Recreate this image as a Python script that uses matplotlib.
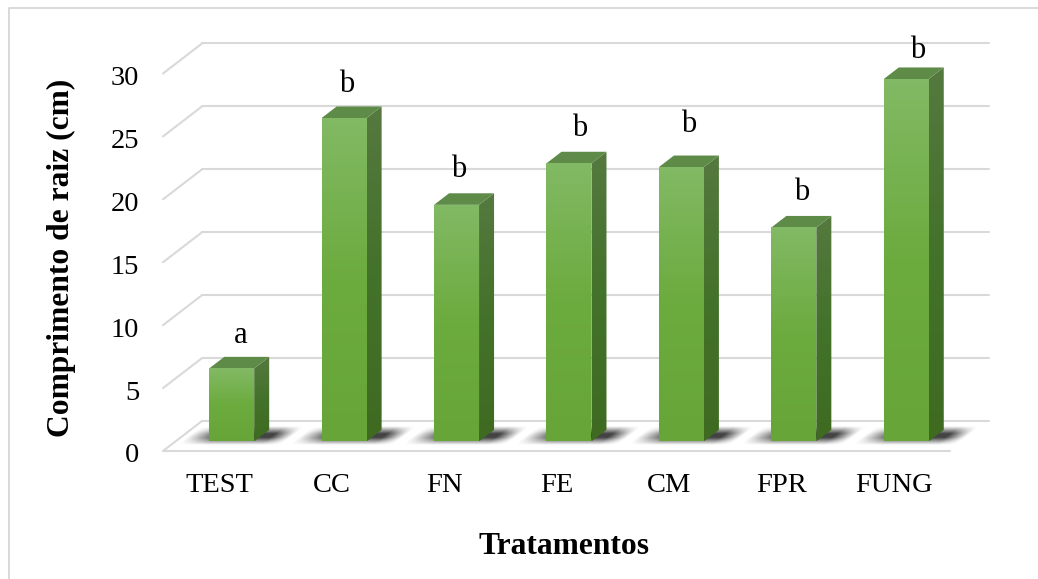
#!/usr/bin/env python
"""Pseudo-3D bar chart of root length per treatment."""

import matplotlib.pyplot as plt
import numpy as np
from matplotlib.colors import LinearSegmentedColormap
from matplotlib.lines import Line2D
from matplotlib.patches import Polygon
from matplotlib.transforms import ScaledTranslation

categories = ["TEST", "CC", "FN", "FE", "CM", "FPR", "FUNG"]
root_length = [5.8, 25.7, 18.8, 22.1, 21.8, 17.0, 28.8]
letters = ["a", "b", "b", "b", "b", "b", "b"]
y_ticks = [0, 5, 10, 15, 20, 25, 30]

W, H = 1038, 579
LEFT, RIGHT, FLOOR, TOP = 163, 950, 451, 73.5  # front plane, pixels from top left

# fake 3D: depth 1 is the back wall, in data units
X_PER_DEPTH = 39 / ((RIGHT - LEFT) / len(categories))
Y_PER_DEPTH = 30 / ((FLOOR - TOP) / 30)
BAR_FRONT, BAR_BACK = 0.32, 0.705
HALF_WIDTH = 0.2

front_cmap = LinearSegmentedColormap.from_list("front", ["#67a539", "#6cab3e", "#82b964"])
side_cmap = LinearSegmentedColormap.from_list("side", ["#3e6b20", "#43722a", "#55793f"])


def project(x, v, depth):
    return x + depth * X_PER_DEPTH, v + depth * Y_PER_DEPTH


def gradient_face(ax, corners, cmap, zorder):
    xs, ys = zip(*corners)
    im = ax.imshow(
        np.linspace(0, 1, 64)[:, None],
        extent=(min(xs), max(xs), min(ys), max(ys)),
        origin="lower",
        cmap=cmap,
        aspect="auto",
        zorder=zorder,
        interpolation="bilinear",
    )
    patch = Polygon(corners, closed=True, transform=ax.transData, fc="none", ec="none")
    ax.add_patch(patch)
    im.set_clip_path(patch)
    # the image would otherwise be cropped at the axes top
    im.set_clip_box(ax.figure.bbox)


def floor_shadow(ax, x, zorder):
    cx, _ = project(x, 0, 0.55)
    gx = np.linspace(-0.5, 0.5, 160)
    gy = np.linspace(-0.5, 0.5, 50)
    u, v = np.meshgrid(gx, gy)
    sheared = u - 0.18 * v
    # long soft fade on the left, shorter on the right
    left = np.clip((sheared + 0.37) / 0.22, 0, 1)
    right = np.clip((0.37 - sheared) / 0.14, 0, 1)
    across = np.clip((0.5 - np.abs(v)) / 0.4, 0, 1)
    rgba = np.zeros((*u.shape, 4))
    rgba[..., :3] = 0.18
    rgba[..., 3] = 0.9 * left * right * across
    _, low = project(x, 0, 0.2)
    _, high = project(x, 0, 0.82)
    im = ax.imshow(
        rgba,
        extent=(cx - 0.62, cx + 0.62, low, high),
        origin="lower",
        aspect="auto",
        zorder=zorder,
        interpolation="bilinear",
    )
    im.set_clip_on(False)


def main() -> None:
    plt.rcParams["font.family"] = ["Liberation Serif", "DejaVu Serif"]
    fig = plt.figure(figsize=(W / 100, H / 100), dpi=100)
    fig.add_artist(
        Line2D(
            [9 / W, 9 / W, 1],
            [0, 1 - 8 / H, 1 - 8 / H],
            transform=fig.transFigure,
            color="#d9d9d9",
            lw=1.4,
            zorder=-1,
        )
    )
    ax = fig.add_axes(
        [LEFT / W, 1 - FLOOR / H, (RIGHT - LEFT) / W, (FLOOR - TOP) / H], facecolor="none"
    )

    n = len(categories)
    x0, x1 = -0.5, n - 0.5
    grid = dict(color="#d9d9d9", lw=1.5, zorder=1, clip_on=False, solid_capstyle="round")
    for tick in y_ticks:
        bx0, by = project(x0, tick, 1)
        bx1, _ = project(x1, tick, 1)
        ax.plot([x0, bx0], [tick, by], **grid)
        ax.plot([bx0, bx1], [by, by], **grid)
    ax.plot([x0, x1], [0, 0], **grid)

    letter_dx = [1, -4.6, -5, 3.6, 0, 0, 3.4]
    letter_dy = [21, 22, 24, 23, 31, 23, 17]
    for i, value in enumerate(root_length):
        floor_shadow(ax, i, 2)

        fl, b0 = project(i - HALF_WIDTH, 0, BAR_FRONT)
        fr, t0 = project(i + HALF_WIDTH, value, BAR_FRONT)
        bl, b1 = project(i - HALF_WIDTH, 0, BAR_BACK)
        br, t1 = project(i + HALF_WIDTH, value, BAR_BACK)

        gradient_face(ax, [(fr, b0), (br, b1), (br, t1), (fr, t0)], side_cmap, 3)
        ax.add_patch(
            Polygon([(fl, t0), (bl, t1), (br, t1), (fr, t0)], fc="#5f8b49", ec="none",
                    zorder=3, clip_on=False)
        )
        gradient_face(ax, [(fl, b0), (fr, b0), (fr, t0), (fl, t0)], front_cmap, 4)

        ax.annotate(
            letters[i],
            xy=project(i, value, (BAR_FRONT + BAR_BACK) / 2),
            xytext=(letter_dx[i] * 0.72, (letter_dy[i] + 6) * 0.72),
            textcoords="offset points",
            ha="center",
            va="center",
            fontsize=22,
            color="black",
            annotation_clip=False,
            zorder=6,
        )

    ax.set_xlim(x0, x1)
    ax.set_ylim(0, 30)
    ax.set_xticks(range(n), categories)
    ax.set_yticks(y_ticks)
    ax.tick_params(axis="both", length=0, labelsize=20.5, colors="black")
    ax.tick_params(axis="x", pad=16)
    ax.tick_params(axis="y", pad=17)
    nudge = ScaledTranslation(0, -2 / 100, fig.dpi_scale_trans)
    for label in ax.get_yticklabels():
        label.set_transform(label.get_transform() + nudge)
    for spine in ax.spines.values():
        spine.set_visible(False)

    fig.text(564 / W, 1 - 547 / H, "Tratamentos", fontsize=22.7, fontweight="bold",
             ha="center", va="center")
    fig.text(61 / W, 1 - 257.5 / H, "Comprimento de raiz (cm)", fontsize=22.7, fontweight="bold",
             rotation=90, ha="center", va="center")

    fig.savefig("out.png", dpi=100)
    plt.close(fig)


if __name__ == "__main__":
    main()
